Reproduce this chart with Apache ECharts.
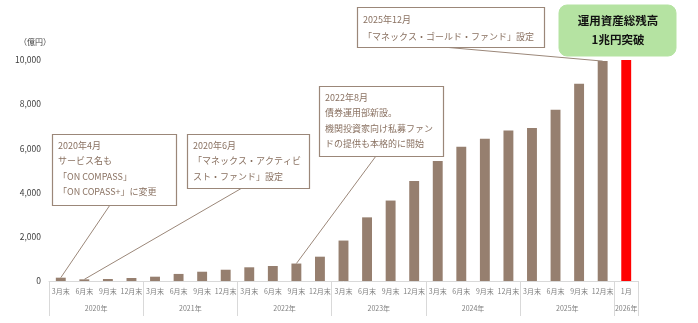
<!DOCTYPE html>
<html>
<head>
<meta charset="utf-8">
<script src="https://cdn.jsdelivr.net/npm/echarts@6/dist/echarts.min.js"></script>
<style>
html,body{margin:0;padding:0;background:#fff;}
#chart{width:698px;height:323px;}
</style>
</head>
<body>
<div id="chart"></div>
<script>
// ---- data ----
const monthLabels = ['3月末','6月末','9月末','12月末','3月末','6月末','9月末','12月末','3月末','6月末','9月末','12月末','3月末','6月末','9月末','12月末','3月末','6月末','9月末','12月末','3月末','6月末','9月末','12月末','1月'];
const yearLabels = ['2020年','2021年','2022年','2023年','2024年','2025年','2026年'];
const yearSpans = [4,4,4,4,4,4,1];
const aum = [150,75,90,135,195,320,420,510,620,680,790,1100,1830,2880,3640,4530,5430,6080,6440,6810,6920,7750,8930,9950,10030];
const yTicks = [0,2000,4000,6000,8000,10000];
const unitLabel = '（億円）';
const notes = [
  {bar:0, lines:['2020年4月','サービス名も','「ON COMPASS」','「ON COPASS+」に変更']},
  {bar:1, lines:['2020年6月','「マネックス・アクティビ','スト・ファンド」設定']},
  {bar:10, lines:['2022年8月','債券運用部新設。','機関投資家向け私募ファン','ドの提供も本格的に開始']},
  {bar:23, lines:['2025年12月','「マネックス・ゴールド・ファンド」設定']}
];
const highlight = ['運用資産総残高','1兆円突破'];

// derived
const yearOfIndex = [];
yearSpans.forEach((s,k)=>{for(let j=0;j<s;j++) yearOfIndex.push(yearLabels[k]);});
const categories = monthLabels.map((m,i)=>yearOfIndex[i]+m);
const bounds=[0]; yearSpans.forEach(s=>bounds.push(bounds[bounds.length-1]+s));
const centers = yearSpans.map((s,k)=>bounds[k]+s/2);

const FONT = '"Noto Sans CJK JP", "Noto Sans", sans-serif';
const chart = echarts.init(document.getElementById('chart'));

chart.setOption({
  animation:false,
  grid:{left:49,right:60,top:60,bottom:42,containLabel:false},
  xAxis:[{
    type:'category', data:categories, boundaryGap:true,
    axisLine:{show:true,lineStyle:{color:'#d9d9d9',width:1}},
    axisTick:{show:false},
    axisLabel:{interval:0, margin:7, fontSize:7, color:'#7f7f7f', fontFamily:FONT,
      formatter:(v,i)=>monthLabels[i]}
  },{
    type:'value', min:0, max:bounds[bounds.length-1], position:'bottom',
    axisLine:{show:false},
    splitLine:{show:false},
    axisTick:{show:true, customValues:bounds, length:35, lineStyle:{color:'#d9d9d9',width:1}},
    axisLabel:{show:true, customValues:centers, margin:24, fontSize:7, color:'#7f7f7f', fontFamily:FONT,
      formatter:(v)=>{const k=centers.indexOf(v);return k>=0?yearLabels[k]:'';}}
  }],
  yAxis:{
    type:'value', min:0, max:yTicks[yTicks.length-1], interval:yTicks[1]-yTicks[0],
    name:unitLabel, nameLocation:'end', nameGap:14,
    nameTextStyle:{fontSize:8, color:'#404040', fontFamily:FONT, align:'right', padding:[0,-2,0,0]},
    axisLine:{show:false}, axisTick:{show:false}, splitLine:{show:false},
    axisLabel:{margin:8, fontSize:8.5, color:'#404040', fontFamily:FONT,
      formatter:(v)=>v.toLocaleString('en-US')}
  },
  series:[{
    type:'bar', xAxisIndex:0, yAxisIndex:0, data:aum, barWidth:'42%',
    itemStyle:{color:(p)=>p.dataIndex===aum.length-1?'#ff0000':'#967f6f'}
  }]
});

// annotation boxes (pixel layout), leader lines to bar tops through the chart scale
const boxes = [
  {x:52,y:134,w:124,h:71, ax:110, ay:205},
  {x:187,y:134,w:122,h:54, ax:242, ay:188},
  {x:319,y:86,w:124,h:70, ax:376, ay:156},
  {x:357,y:7,w:187,h:40, ax:443, ay:47}
];
const graphics = [];
notes.forEach((n,k)=>{
  const b = boxes[k];
  const p = chart.convertToPixel({xAxisIndex:0,yAxisIndex:0},[n.bar, aum[n.bar]]);
  graphics.push({type:'line', silent:true, z:5,
    shape:{x1:b.ax,y1:b.ay,x2:p[0],y2:p[1]},
    style:{stroke:'#9b8779',lineWidth:1}});
  graphics.push({type:'rect', z:6, shape:{x:b.x+0.5,y:b.y+0.5,width:b.w,height:b.h},
    style:{fill:'#fff',stroke:'#9b8779',lineWidth:1.2}});
  graphics.push({type:'text', z:7, x:b.x+6, y:b.y+4,
    style:{text:n.lines.join('\n'), fill:'#8a7262', font:'9px '+FONT, lineHeight:(k===3?17:15.3)}});
});
graphics.push({type:'rect', z:6, shape:{x:559,y:5,width:117,height:51,r:8},
  style:{fill:'#b5e3a2',stroke:'#b5e3a2'}});
graphics.push({type:'text', z:7, x:618, y:30,
  style:{text:highlight.join('\n'), fill:'#111', font:'bold 11.5px '+FONT, lineHeight:19, align:'center', verticalAlign:'middle'}});
chart.setOption({graphic:graphics});
</script>
</body>
</html>
